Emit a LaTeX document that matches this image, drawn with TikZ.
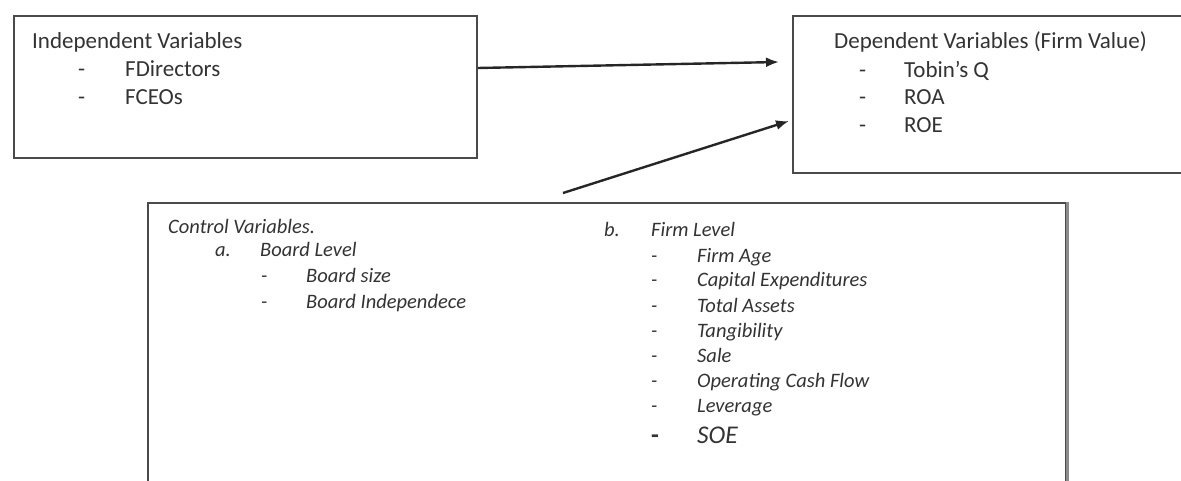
\documentclass[tikz,border=0pt]{standalone}
\usepackage{fontspec}
\setmainfont{Carlito}
\usetikzlibrary{arrows.meta}
\definecolor{txt}{HTML}{333333}
\definecolor{edge}{HTML}{4A4A4A}
\begin{document}
\begin{tikzpicture}[x=1pt,y=-1pt,
  boxstyle/.style={draw=edge,line width=2pt,fill=none,inner sep=0pt},
  head/.style={anchor=base west,inner sep=0pt,text=txt,font=\fontsize{23}{27}\selectfont},
  itm/.style={anchor=base west,inner sep=0pt,text=txt,font=\fontsize{20.5}{24}\selectfont\itshape},
  arr/.style={-{Latex[length=13pt,width=10pt]},line width=2.4pt,draw=black!85}]
\useasboundingbox (0,0) rectangle (1181,481);
\clip (0,0) rectangle (1181,481);
% boxes
\node[boxstyle,minimum width=463pt,minimum height=142pt,anchor=north west] (indep) at (13,15) {};
\node[boxstyle,minimum width=420pt,minimum height=157pt,anchor=north west] (dep) at (792,15) {};
\node[boxstyle,minimum width=918pt,minimum height=300pt,anchor=north west] (ctrl) at (147,202) {};
\draw[draw=black!45,line width=3pt] (ctrl.north east) -- (ctrl.south east);
% independent text
\node[head] (t1) at (32,49) {Independent Variables};
\node[head] (d11) at (78,77) {-};
\node[head] (t11) at (125,77) {FDirectors};
\node[head] (d12) at (78,105) {-};
\node[head] (t12) at (125,105) {FCEOs};
% dependent text
\node[head] (t2) at (834,49) {Dependent Variables (Firm Value)};
\node[head] (d21) at (859,78) {-};
\node[head] (t21) at (904,78) {Tobin’s Q};
\node[head] (d22) at (859,105) {-};
\node[head] (t22) at (904,105) {ROA};
\node[head] (d23) at (859,133) {-};
\node[head] (t23) at (904,133) {ROE};
% control text
\node[itm] (t3) at (168,234) {Control Variables.};
\node[itm] (la) at (215,257) {a.};
\node[itm] (ta) at (260,257) {Board Level};
\node[itm] (da1) at (261,283) {-};
\node[itm] (ta1) at (306,283) {Board size};
\node[itm] (da2) at (261,308) {-};
\node[itm] (ta2) at (306,308) {Board Independece};
\node[itm] (lb) at (604,237) {b.};
\node[itm] (tb) at (651,237) {Firm Level};
\node[itm] (db1) at (651,262) {-};
\node[itm] (tb1) at (697,262) {Firm Age};
\node[itm] (db2) at (651,287) {-};
\node[itm] (tb2) at (697,287) {Capital Expenditures};
\node[itm] (db3) at (651,312) {-};
\node[itm] (tb3) at (697,312) {Total Assets};
\node[itm] (db4) at (651,337) {-};
\node[itm] (tb4) at (697,337) {Tangibility};
\node[itm] (db5) at (651,362) {-};
\node[itm] (tb5) at (697,362) {Sale};
\node[itm] (db6) at (651,387) {-};
\node[itm] (tb6) at (697,387) {Operating Cash Flow};
\node[itm] (db7) at (651,412) {-};
\node[itm] (tb7) at (697,412) {Leverage};
\node[itm,font=\fontsize{25.5}{30}\selectfont\itshape] (db8) at (651,443) {\upshape\bfseries -};
\node[itm,font=\fontsize{25.5}{30}\selectfont\itshape] (tb8) at (697,443) {SOE};
% arrows
\coordinate (a1s) at (indep.east |- 0,68);
\coordinate (a1e) at ([xshift=-13pt]dep.west |- 0,62);
\coordinate (a2s) at (563,193);
\coordinate (a2e) at ([xshift=-3pt]dep.west |- 0,121);
\draw[arr] (a1s) -- (a1e);
\draw[arr] (a2s) -- (a2e);
\end{tikzpicture}
\end{document}
